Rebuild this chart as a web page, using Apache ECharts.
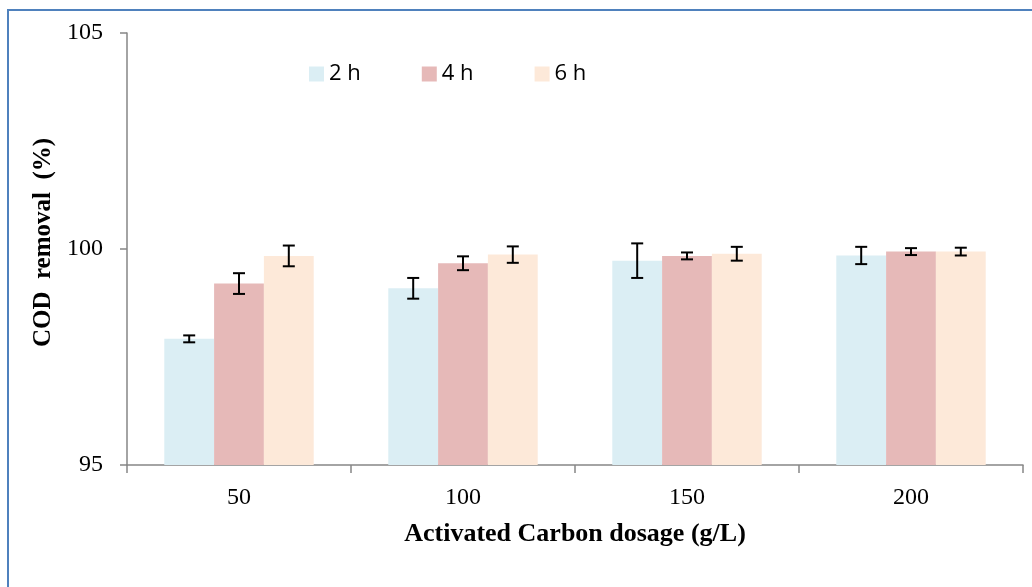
<!DOCTYPE html>
<html>
<head>
<meta charset="utf-8">
<script src="https://cdn.jsdelivr.net/npm/echarts@6/dist/echarts.min.js"></script>
<style>
html,body{margin:0;padding:0;background:#fff;}
#chart{width:1032px;height:587px;}
</style>
</head>
<body>
<div id="chart"></div>
<script>
var categories = ['50', '100', '150', '200'];
var seriesNames = ['2 h', '4 h', '6 h'];
var h2 = [97.92, 99.09, 99.73, 99.85];
var h4 = [99.20, 99.67, 99.84, 99.94];
var h6 = [99.84, 99.87, 99.89, 99.94];
var err2 = [0.08, 0.24, 0.40, 0.20];
var err4 = [0.24, 0.16, 0.08, 0.08];
var err6 = [0.24, 0.19, 0.16, 0.09];
var yTicks = [95, 100, 105];

var colors = ['#DBEEF4', '#E6B9B8', '#FDE9D9'];
var values = [h2, h4, h6];
var errs = [err2, err4, err6];
var catGap = 0.333;

var chart = echarts.init(document.getElementById('chart'), null, {renderer: 'canvas'});

var series = [];
values.forEach(function (vals, i) {
  series.push({
    name: seriesNames[i],
    type: 'bar',
    data: vals,
    barGap: '0%',
    barCategoryGap: '33.3%',
    itemStyle: {color: colors[i]},
    emphasis: {disabled: true}
  });
});
values.forEach(function (vals, i) {
  var data = vals.map(function (v, k) { return [k, v - errs[i][k], v + errs[i][k]]; });
  series.push({
    type: 'custom',
    name: 'err' + i,
    data: data,
    z: 10,
    silent: true,
    encode: {x: 0, y: [1, 2]},
    renderItem: function (params, api) {
      var band = api.size([1, 0])[0];
      var bw = band * (1 - catGap) / 3;
      var off = (i - 1) * bw;
      var lo = api.coord([api.value(0), api.value(1)]);
      var hi = api.coord([api.value(0), api.value(2)]);
      var x = lo[0] + off;
      var cap = 6;
      var st = {stroke: '#000', lineWidth: 2};
      return {
        type: 'group',
        children: [
          {type: 'line', shape: {x1: x, y1: lo[1], x2: x, y2: hi[1]}, style: st},
          {type: 'line', shape: {x1: x - cap, y1: lo[1], x2: x + cap, y2: lo[1]}, style: st},
          {type: 'line', shape: {x1: x - cap, y1: hi[1], x2: x + cap, y2: hi[1]}, style: st}
        ]
      };
    }
  });
});

var option = {
  animation: false,
  backgroundColor: '#fff',
  graphic: [{
    type: 'rect',
    shape: {x: 8, y: 10, width: 1200, height: 800},
    style: {fill: 'none', stroke: '#4F81BD', lineWidth: 2},
    silent: true
  }],
  legend: {
    data: seriesNames,
    left: 304,
    top: 58,
    itemWidth: 15,
    itemHeight: 15,
    itemGap: 61,
    icon: 'rect',
    textStyle: {fontFamily: 'Open Sans', fontSize: 22, color: '#000'}
  },
  grid: {left: 127, right: 9, top: 33, bottom: 122, containLabel: false},
  xAxis: {
    type: 'category',
    data: categories,
    name: 'Activated Carbon dosage (g/L)',
    nameLocation: 'middle',
    nameGap: 56,
    nameTextStyle: {fontFamily: 'Liberation Serif', fontWeight: 'bold', fontSize: 26, color: '#000'},
    axisLine: {lineStyle: {color: '#868686', width: 1.5}},
    axisTick: {show: true, length: 8, lineStyle: {color: '#868686', width: 1.5}},
    axisLabel: {margin: 21, fontFamily: 'Liberation Serif', fontSize: 24, color: '#000'}
  },
  yAxis: {
    type: 'value',
    min: yTicks[0],
    max: yTicks[yTicks.length - 1],
    interval: yTicks[1] - yTicks[0],
    name: 'COD  removal  (%)',
    nameLocation: 'middle',
    nameGap: 64,
    nameTextStyle: {fontFamily: 'Liberation Serif', fontWeight: 'bold', fontSize: 25, color: '#000', padding: [0, 0, 0, 13]},
    axisLine: {show: true, lineStyle: {color: '#868686', width: 1.5}},
    axisTick: {show: true, length: 7, lineStyle: {color: '#868686', width: 1.5}},
    splitLine: {show: false},
    axisLabel: {margin: 24, fontFamily: 'Liberation Serif', fontSize: 24, color: '#000'}
  },
  series: series
};
chart.setOption(option);
</script>
</body>
</html>
